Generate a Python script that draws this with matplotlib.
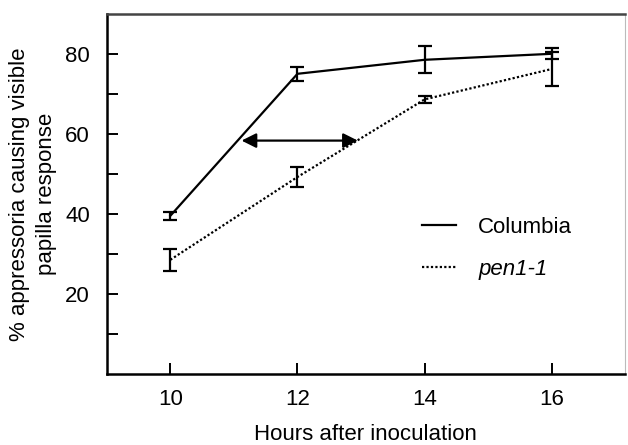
import matplotlib
matplotlib.use("Agg")
import matplotlib.pyplot as plt

plt.rcParams['font.family'] = ['Liberation Sans', 'DejaVu Sans']

hours = [10, 12, 14, 16]
columbia = [39.5, 75.0, 78.5, 80.0]
columbia_err = [1.0, 1.7, 3.4, 1.4]
pen1 = [28.5, 49.2, 68.6, 76.2]
pen1_err = [2.7, 2.4, 0.9, 4.2]
delay_y = 58.3
delay_x = [11.12, 12.95]

fs = 16

fig = plt.figure(figsize=(6.28, 4.45), dpi=100)
ax = fig.add_axes([0.170, 0.160, 0.825, 0.809])

ax.errorbar(hours, columbia, yerr=columbia_err, color='black', lw=1.6,
            elinewidth=1.6, capsize=5, capthick=1.6, label='Columbia')
ax.errorbar(hours, pen1, yerr=pen1_err, color='black', lw=1.6, ls=(0, (1, 1)),
            elinewidth=1.6, capsize=5, capthick=1.6, label='pen1-1')

ax.annotate('', xy=(delay_x[0], delay_y), xytext=(delay_x[1], delay_y),
            arrowprops=dict(arrowstyle='<|-|>', color='black', lw=1.6,
                            mutation_scale=22, shrinkA=0, shrinkB=0))

ax.set_xlim(9, 17.15)
ax.set_ylim(0, 90)
ax.set_xticks(hours)
ax.set_yticks([20, 40, 60, 80])
ax.set_yticks([10, 30, 50, 70], minor=True)
ax.tick_params(axis='both', direction='in', length=8, width=1.4, labelsize=fs)
ax.tick_params(axis='x', pad=11)
ax.tick_params(axis='y', pad=12)
ax.tick_params(axis='y', which='minor', direction='in', length=8, width=1.4)
for s in ['left', 'bottom', 'top']:
    ax.spines[s].set_linewidth(1.8)
ax.spines['top'].set_color('#444444')
ax.spines['right'].set_color('#bbbbbb')
ax.spines['right'].set_linewidth(0.8)

ax.set_xlabel('Hours after inoculation', fontsize=fs, labelpad=10)
ax.set_ylabel('% appressoria causing visible\npapilla response', fontsize=fs,
              linespacing=1.35, labelpad=6)

h, l = ax.get_legend_handles_labels()
h = [hh[0] for hh in h]
leg = ax.legend(h, ['Columbia', 'pen1-1'], loc='center left',
                bbox_to_anchor=(0.569, 0.348), frameon=False, fontsize=fs,
                handlelength=1.55, handletextpad=1.0, labelspacing=0.95)
leg.get_texts()[1].set_style('italic')

fig.savefig('out.png', dpi=100)
